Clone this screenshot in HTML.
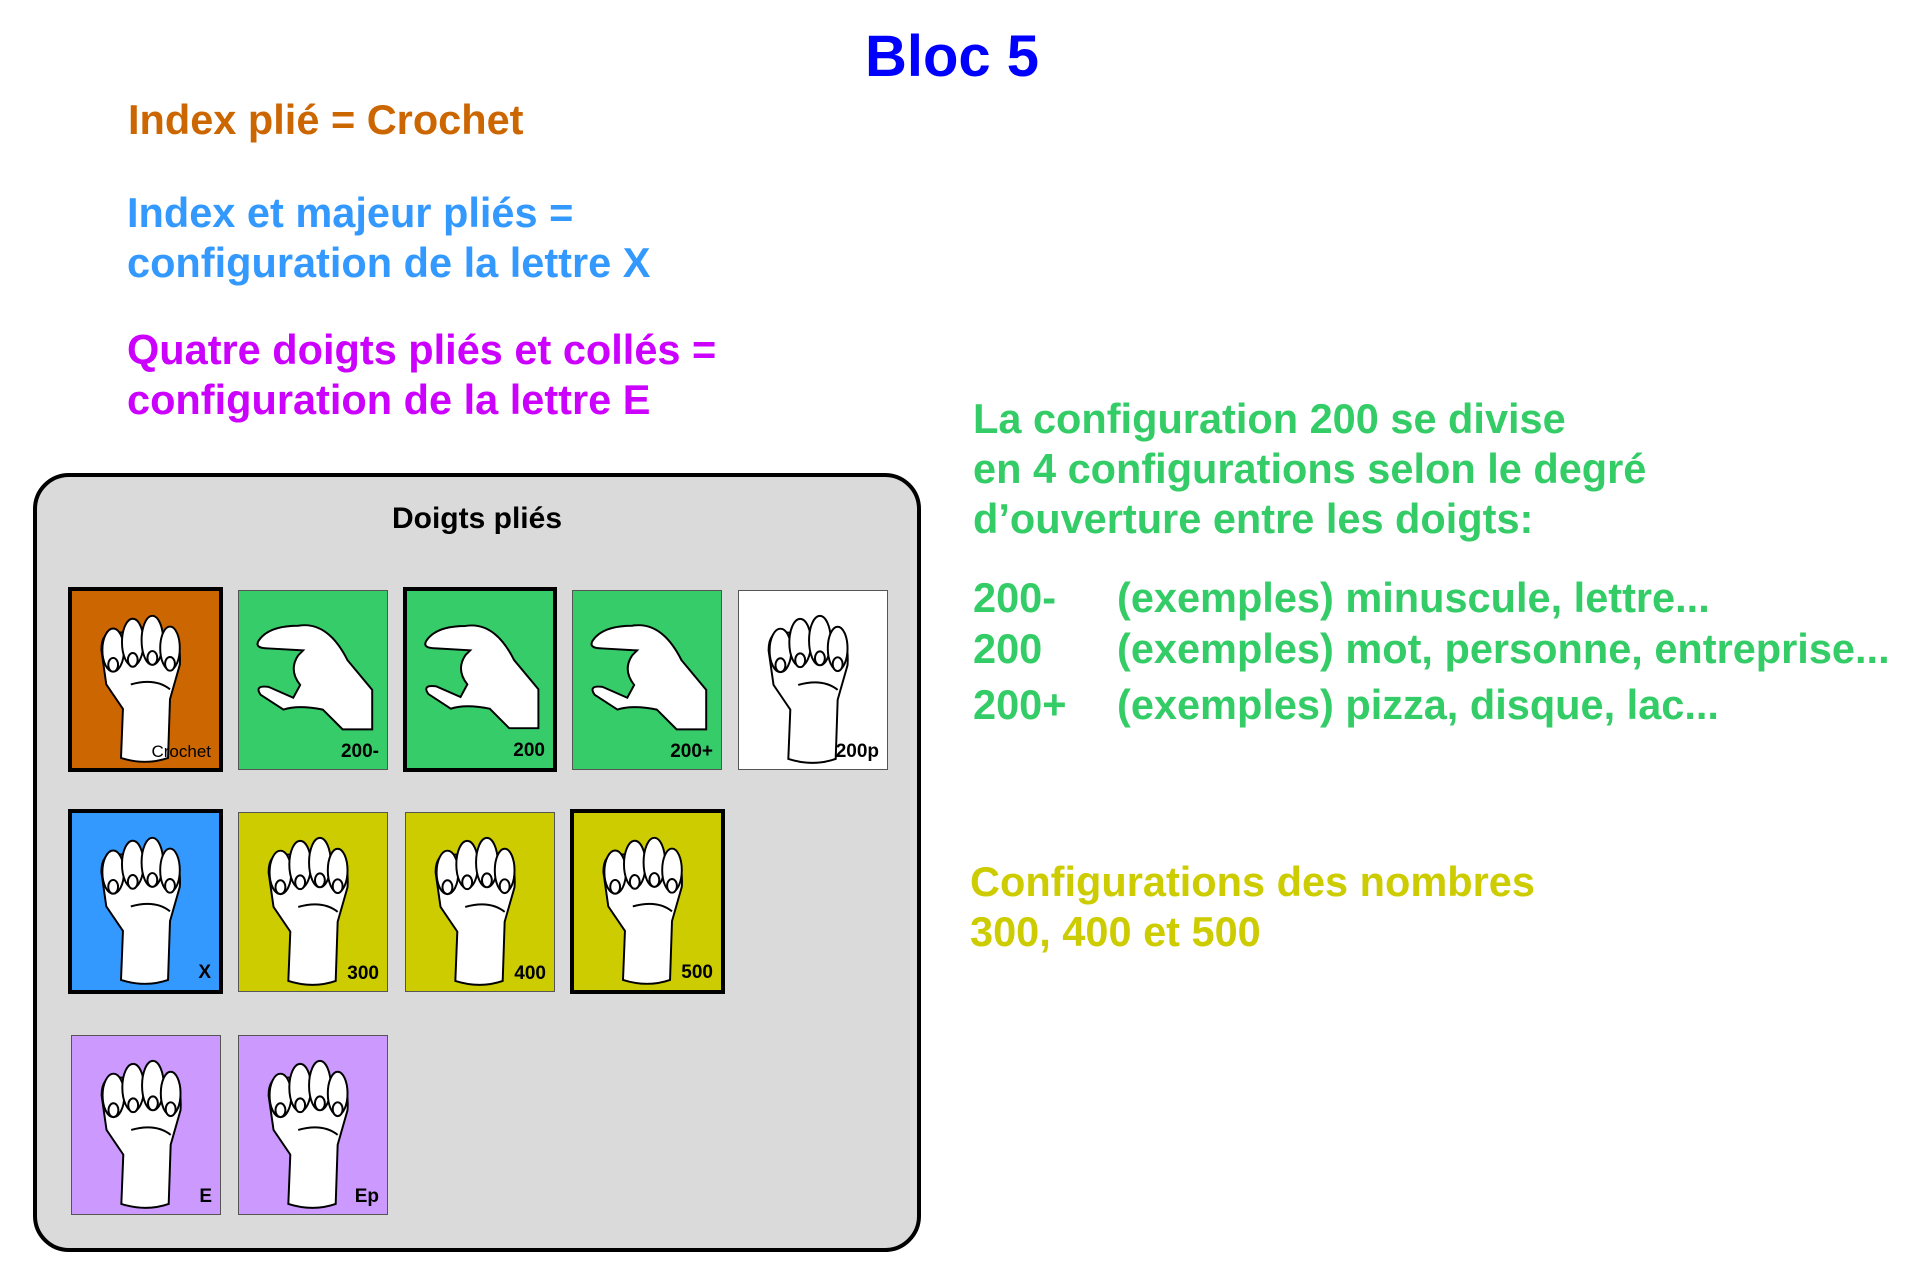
<!DOCTYPE html>
<html><head><meta charset="utf-8"><style>
body{margin:0;width:1920px;height:1280px;background:#fff;position:relative;overflow:hidden;font-family:"Liberation Sans",Arial,sans-serif;font-weight:bold}
.t{position:absolute;white-space:nowrap;line-height:1}
.panel{position:absolute;left:33px;top:473px;width:880px;height:771px;background:#dadada;border:4px solid #000;border-radius:36px}
.tile{position:absolute;box-sizing:border-box;border:1px solid #555}
.thick{border:4px solid #000}
.tile svg{position:absolute;left:0;top:0;width:100%;height:100%}
.lab{position:absolute;right:8px;bottom:8px;font-size:19px;color:#000;line-height:1}
.f{font-size:41.5px}
</style></head><body>
<svg width="0" height="0" style="position:absolute">
<defs>
<g id="fist" stroke="#000" stroke-width="2" fill="#fff">
<path d="M50 170 L52 120 L35 95 L30 60 Q30 40 45 42 L95 42 Q112 45 110 75 L100 110 L98 170 Q75 178 50 170Z"/>
<ellipse cx="42" cy="60" rx="11" ry="22"/><ellipse cx="62" cy="52" rx="11" ry="24"/><ellipse cx="82" cy="50" rx="11" ry="25"/><ellipse cx="100" cy="58" rx="10" ry="22"/>
<ellipse cx="42" cy="75" rx="5" ry="7"/><ellipse cx="62" cy="70" rx="5" ry="7"/><ellipse cx="82" cy="68" rx="5" ry="7"/><ellipse cx="100" cy="74" rx="5" ry="7"/>
<path d="M60 95 Q85 88 100 100" fill="none"/>
</g>
<g id="c" stroke="#000" stroke-width="2" fill="#fff">
<path d="M20 50 Q30 35 60 35 Q90 30 110 70 L135 100 L135 140 L105 140 L85 120 Q60 115 45 120 L22 105 Q15 95 30 97 L55 108 L62 95 Q50 80 60 65 L65 60 L30 58 Q15 58 20 50Z"/>
</g>
</defs></svg>

<div class="t" style="left:0;width:1904px;text-align:center;top:28px;font-size:58px;color:#0000ff">Bloc 5</div>
<div class="t f" style="left:128px;top:99px;color:#cc6600">Index plié = Crochet</div>
<div class="t f" style="left:127px;top:192px;color:#3399ff">Index et majeur pliés =</div>
<div class="t f" style="left:127px;top:242px;color:#3399ff">configuration de la lettre X</div>
<div class="t f" style="left:127px;top:329px;color:#cc00ff">Quatre doigts pliés et collés =</div>
<div class="t f" style="left:127px;top:379px;color:#cc00ff">configuration de la lettre E</div>

<div class="t f" style="left:973px;top:394px;color:#33cc66;line-height:50px;white-space:pre">La configuration 200 se divise
en 4 configurations selon le degré
d’ouverture entre les doigts:</div>
<div class="t f" style="left:973px;top:577px;color:#33cc66">200-</div>
<div class="t f" style="left:1117px;top:577px;color:#33cc66">(exemples) minuscule, lettre...</div>
<div class="t f" style="left:973px;top:628px;color:#33cc66">200</div>
<div class="t f" style="left:1117px;top:628px;color:#33cc66">(exemples) mot, personne, entreprise...</div>
<div class="t f" style="left:973px;top:684px;color:#33cc66">200+</div>
<div class="t f" style="left:1117px;top:684px;color:#33cc66">(exemples) pizza, disque, lac...</div>
<div class="t f" style="left:970px;top:861px;color:#cccc00">Configurations des nombres</div>
<div class="t f" style="left:970px;top:911px;color:#cccc00">300, 400 et 500</div>

<div class="panel"></div>
<div class="t" style="left:33px;width:888px;text-align:center;top:504px;font-size:30px;color:#000">Doigts pliés</div>

<div class="tile thick" style="left:68px;top:587px;width:155px;height:185px;background:#cc6600"><svg viewBox="0 0 150 180"><use href="#fist"/></svg><span class="lab" style="font-weight:normal;font-size:17px">Crochet</span></div>
<div class="tile" style="left:238px;top:590px;width:150px;height:180px;background:#36cc6a"><svg viewBox="0 0 150 180"><use href="#c"/></svg><span class="lab">200-</span></div>
<div class="tile thick" style="left:403px;top:587px;width:154px;height:185px;background:#36cc6a"><svg viewBox="0 0 150 180"><use href="#c"/></svg><span class="lab">200</span></div>
<div class="tile" style="left:572px;top:590px;width:150px;height:180px;background:#36cc6a"><svg viewBox="0 0 150 180"><use href="#c"/></svg><span class="lab">200+</span></div>
<div class="tile" style="left:738px;top:590px;width:150px;height:180px;background:#fff"><svg viewBox="0 0 150 180"><use href="#fist"/></svg><span class="lab">200p</span></div>

<div class="tile thick" style="left:68px;top:809px;width:155px;height:185px;background:#3399ff"><svg viewBox="0 0 150 180"><use href="#fist"/></svg><span class="lab">X</span></div>
<div class="tile" style="left:238px;top:812px;width:150px;height:180px;background:#cccc00"><svg viewBox="0 0 150 180"><use href="#fist"/></svg><span class="lab">300</span></div>
<div class="tile" style="left:405px;top:812px;width:150px;height:180px;background:#cccc00"><svg viewBox="0 0 150 180"><use href="#fist"/></svg><span class="lab">400</span></div>
<div class="tile thick" style="left:570px;top:809px;width:155px;height:185px;background:#cccc00"><svg viewBox="0 0 150 180"><use href="#fist"/></svg><span class="lab">500</span></div>

<div class="tile" style="left:71px;top:1035px;width:150px;height:180px;background:#cc99ff"><svg viewBox="0 0 150 180"><use href="#fist"/></svg><span class="lab">E</span></div>
<div class="tile" style="left:238px;top:1035px;width:150px;height:180px;background:#cc99ff"><svg viewBox="0 0 150 180"><use href="#fist"/></svg><span class="lab">Ep</span></div>
</body></html>
